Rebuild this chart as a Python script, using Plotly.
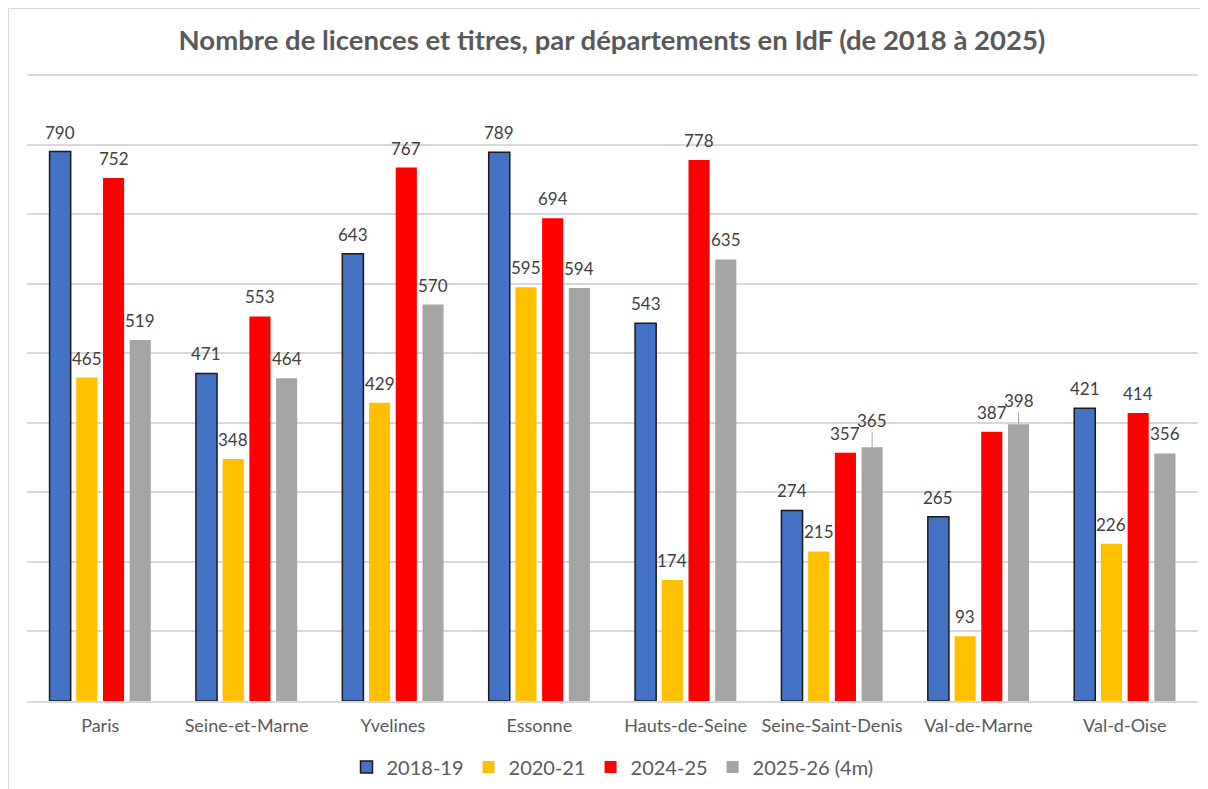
# -*- coding: utf-8 -*-
import plotly.graph_objects as go

# departements d'Ile-de-France
departements = ['Paris', 'Seine-et-Marne', 'Yvelines', 'Essonne',
                'Hauts-de-Seine', 'Seine-Saint-Denis', 'Val-de-Marne', 'Val-d-Oise']

# nombre de licences et titres par saison
v_2018 = [790, 471, 643, 789, 543, 274, 265, 421]
v_2020 = [465, 348, 429, 595, 174, 215, 93, 226]
v_2024 = [752, 553, 767, 694, 778, 357, 387, 414]
v_2025 = [519, 464, 570, 594, 635, 365, 398, 356]

saisons = ['2018-19', '2020-21', '2024-25', '2025-26 (4m)']
couleurs = ['#4472C4', '#FFC000', '#FF0000', '#A5A5A5']
series = [v_2018, v_2020, v_2024, v_2025]

# etiquettes deplacees avec trait de rappel (serie 2025-26)
deplacees = {'Seine-Saint-Denis': -27, 'Val-de-Marne': -24}

police = 'Lato, Open Sans, sans-serif'

# la page ajoute une marge de 8px autour de la figure
W, H = 1200, 781
ml, mr, mt, mb = 19, 10, 65, 88
larg = W - ml - mr
haut = H - mt - mb

fig = go.Figure()
for i, (nom, vals, col) in enumerate(zip(saisons, series, couleurs)):
    fig.add_trace(go.Bar(
        x=departements,
        y=vals,
        name=nom,
        marker=dict(color=col,
                    line=dict(color='#1a1a1a' if i == 0 else col, width=1.5 if i == 0 else 0)),
    ))

# etiquettes de donnees, decalees sur chaque barre du groupe
largeur_cat = larg / len(departements)
pas = largeur_cat * (1 - 0.27) / 4
for i, vals in enumerate(series):
    for dep, v in zip(departements, vals):
        if i == 3 and dep in deplacees:
            fig.add_annotation(
                x=dep, y=v, xshift=1.5 * pas,
                text=str(v), showarrow=True, arrowhead=0, arrowwidth=1,
                arrowcolor='#a6a6a6', ax=0, ay=deplacees[dep],
                font=dict(size=17, color='#404040', family=police),
            )
        else:
            fig.add_annotation(
                x=dep, y=v, xshift=(i - 1.5) * pas, yshift=7,
                text=str(v), showarrow=False, yanchor='bottom',
                font=dict(size=17, color='#404040', family=police),
            )

fig.update_layout(
    width=W, height=H,
    margin=dict(l=ml, r=mr, t=mt, b=mb, autoexpand=False),
    paper_bgcolor='white', plot_bgcolor='white',
    barmode='group', bargap=0.27, bargroupgap=0.21,
    font=dict(family=police, color='#595959'),
    title=dict(text='<b>Nombre de licences et titres, par départements en IdF (de 2018 à 2025)</b>',
               x=604 / W, xanchor='center', y=1 - 32 / H, yanchor='middle',
               font=dict(size=27.5, color='#595959', family=police)),
    legend=dict(orientation='h', x=0.5, xanchor='center',
                yref='container', y=1 - 759 / H, yanchor='middle',
                font=dict(size=20, color='#595959', family=police),
                itemwidth=30, traceorder='normal'),
    showlegend=True,
)
fig.update_xaxes(showline=True, linecolor='#d9d9d9', linewidth=1.5, automargin=False,
                 ticks='', ticklabelstandoff=8,
                 tickfont=dict(size=18, color='#595959', family=police))
fig.update_yaxes(range=[0, 903], dtick=100, showticklabels=False, automargin=False,
                 showgrid=True, gridcolor='#d9d9d9', gridwidth=1.5, zeroline=False)

# cadre du graphique
fig.add_shape(type='rect', xref='paper', yref='paper',
              x0=(0.5 - ml) / larg, x1=1.05, y0=-0.3, y1=(mt + haut - 0.5) / haut,
              line=dict(color='#d9d9d9', width=1))

fig.write_html('out.html')
